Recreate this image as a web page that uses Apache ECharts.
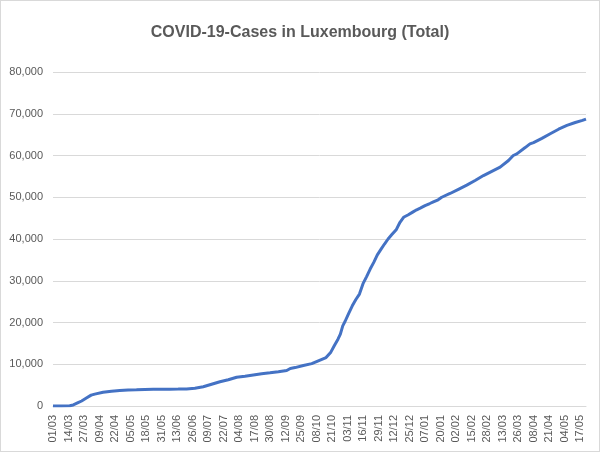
<!DOCTYPE html>
<html>
<head>
<meta charset="utf-8">
<title>COVID-19-Cases in Luxembourg (Total)</title>
<script src="https://cdn.jsdelivr.net/npm/echarts@6/dist/echarts.min.js"></script>
<style>
    html, body { margin: 0; padding: 0; background: #fff; }
    #chart { width: 600px; height: 452px; box-sizing: border-box; border: 1px solid #d9d9d9; }
</style>
</head>
<body>
<div id="chart"></div>
<script>
// 起止日期（每天一个类目）
var firstDay = '2020-03-01';
var lastDay = '2021-05-22';

// 读图得到的累计病例（部分日期）
var sampleDates = [
    '2020-03-01', '2020-03-08', '2020-03-15', '2020-03-18', '2020-03-22', '2020-03-25', '2020-03-29',
    '2020-04-02', '2020-04-05', '2020-04-12', '2020-04-19', '2020-04-26', '2020-05-03', '2020-05-10',
    '2020-05-17', '2020-05-24', '2020-05-31', '2020-06-07', '2020-06-14', '2020-06-21', '2020-06-28',
    '2020-07-05', '2020-07-12', '2020-07-19', '2020-07-26', '2020-08-02', '2020-08-09', '2020-08-16',
    '2020-08-23', '2020-08-30', '2020-09-06', '2020-09-13', '2020-09-16', '2020-09-20', '2020-09-27',
    '2020-10-04', '2020-10-11', '2020-10-16', '2020-10-20', '2020-10-23', '2020-10-26', '2020-10-28',
    '2020-10-30', '2020-11-01', '2020-11-04', '2020-11-07', '2020-11-10', '2020-11-13', '2020-11-16',
    '2020-11-19', '2020-11-22', '2020-11-25', '2020-11-28', '2020-12-01', '2020-12-04', '2020-12-07',
    '2020-12-10', '2020-12-14', '2020-12-17', '2020-12-20', '2020-12-24', '2020-12-28', '2020-12-31',
    '2021-01-03', '2021-01-07', '2021-01-11', '2021-01-14', '2021-01-18', '2021-01-21', '2021-01-28',
    '2021-02-04', '2021-02-11', '2021-02-18', '2021-02-25', '2021-03-04', '2021-03-11', '2021-03-18',
    '2021-03-22', '2021-03-25', '2021-04-01', '2021-04-05', '2021-04-08', '2021-04-15', '2021-04-22',
    '2021-04-29', '2021-05-06', '2021-05-13', '2021-05-19', '2021-05-22'
];
var sampleCases = [
    0, 0, 50, 250, 800, 1200, 1900,
    2600, 2850, 3300, 3550, 3720, 3830, 3900,
    3980, 4000, 4020, 4040, 4060, 4100, 4250,
    4600, 5200, 5800, 6300, 6900, 7150, 7450,
    7750, 7950, 8200, 8500, 9000, 9200, 9700,
    10150, 11000, 11600, 12900, 14500, 16000, 17200,
    19200, 20300, 22200, 24000, 25500, 26800, 29300,
    31000, 32800, 34400, 36200, 37500, 38800, 40000,
    41000, 42300, 44000, 45200, 45800, 46500, 47000,
    47400, 48000, 48500, 48900, 49400, 50000, 50900,
    51900, 52900, 54000, 55200, 56200, 57200, 58800,
    60000, 60400, 61900, 62800, 63100, 64100, 65200,
    66300, 67200, 67900, 68400, 68700
];

// y轴刻度
var yMin = 0;
var yMax = 80000;
var yStep = 10000;

(function () {
    // 1-生成每天的类目
    var categories = [];
    var d = new Date(firstDay + 'T00:00:00Z');
    var end = new Date(lastDay + 'T00:00:00Z');
    while (d <= end) {
        categories.push(d.toISOString().slice(0, 10));
        d.setUTCDate(d.getUTCDate() + 1);
    }

    var lineData = sampleDates.map(function (day, i) {
        return [day, sampleCases[i]];
    });

    // 2-初始化图表
    var myChart = echarts.init(document.getElementById('chart'));
    var option = {
        animation: false,
        title: {
            text: 'COVID-19-Cases in Luxembourg (Total)',
            left: 'center',
            top: 19,
            textStyle: {
                fontFamily: '"Liberation Sans", Arial, sans-serif',
                fontSize: 16,
                fontWeight: 'bold',
                color: '#595959'
            }
        },
        grid: {
            left: 52,
            right: 13,
            top: 71,
            bottom: 45
        },
        xAxis: {
            type: 'category',
            data: categories,
            boundaryGap: false,
            axisLine: { lineStyle: { color: '#d9d9d9', width: 1 } },
            axisTick: { show: false },
            axisLabel: {
                interval: 12,
                rotate: 90,
                margin: 9,
                color: '#595959',
                fontFamily: '"Liberation Sans", Arial, sans-serif',
                fontSize: 11,
                formatter: function (v) {
                    return v.slice(8, 10) + '/' + v.slice(5, 7);
                }
            }
        },
        yAxis: {
            type: 'value',
            min: yMin,
            max: yMax,
            interval: yStep,
            axisLine: { show: false },
            axisTick: { show: false },
            splitLine: { lineStyle: { color: '#d9d9d9', width: 1 } },
            axisLabel: {
                margin: 10,
                color: '#595959',
                fontFamily: '"Liberation Sans", Arial, sans-serif',
                fontSize: 11,
                formatter: function (v) {
                    return v.toLocaleString('en-US');
                }
            }
        },
        series: [
            {
                name: 'Total',
                type: 'line',
                data: lineData,
                showSymbol: false,
                symbol: 'none',
                lineStyle: { color: '#4472c4', width: 3 },
                z: 3
            }
        ]
    };
    // 3-生成图表
    myChart.setOption(option);
})();
</script>
</body>
</html>
